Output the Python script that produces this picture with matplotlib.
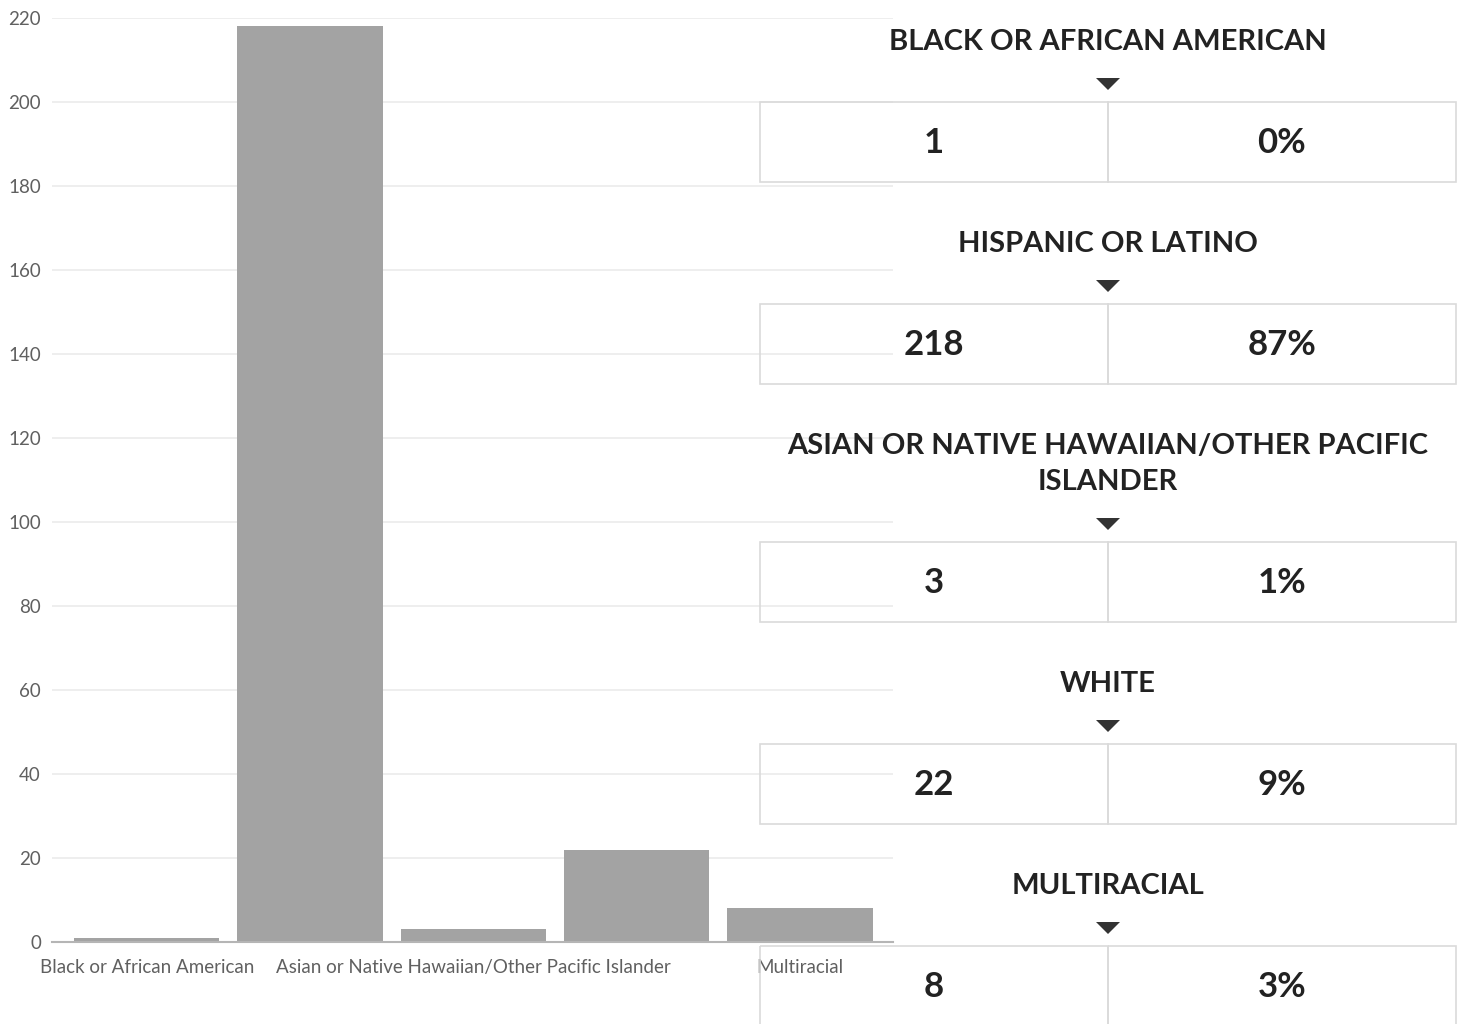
import matplotlib.pyplot as plt
from matplotlib.patches import Rectangle, Polygon

# Data
categories = ['Black or African American', 'Hispanic or Latino',
              'Asian or Native Hawaiian/Other Pacific Islander', 'White', 'Multiracial']
counts = [1, 218, 3, 22, 8]
percents = ['0%', '87%', '1%', '9%', '3%']
headers = ['BLACK OR AFRICAN AMERICAN', 'HISPANIC OR LATINO',
           'ASIAN OR NATIVE HAWAIIAN/OTHER PACIFIC\nISLANDER', 'WHITE', 'MULTIRACIAL']
# only every other category label is shown under the bars
shown_labels = ['Black or African American', '',
                'Asian or Native Hawaiian/Other Pacific Islander', '', 'Multiracial']
yticks = list(range(0, 221, 20))

plt.rcParams['font.family'] = ['Lato', 'DejaVu Sans']

W, H = 1465, 1024
fig = plt.figure(figsize=(W / 100, H / 100), dpi=100)

# Bar chart
ax = fig.add_axes([52 / W, (H - 942) / H, (893 - 52) / W, (942 - 18) / H])
x = list(range(len(counts)))
ax.bar(x, counts, width=0.89, color='#a3a3a3', zorder=3)
ax.set_xlim(-0.58, 4.57)
ax.set_ylim(0, 220)
ax.set_yticks(yticks)
ax.set_xticks(x)
ax.set_xticklabels(shown_labels)
ax.grid(axis='y', color='#ebebeb', linewidth=1.2, zorder=0)
ax.tick_params(axis='both', length=0, labelsize=13.5, labelcolor='#606060')
ax.tick_params(axis='y', pad=8)
ax.tick_params(axis='x', pad=12)
for s in ['top', 'right', 'left']:
    ax.spines[s].set_visible(False)
ax.spines['bottom'].set_color('#b5b5b5')
ax.spines['bottom'].set_linewidth(1.5)
ax.spines['bottom'].set_zorder(4)

# Overlay panel on the right (boxes are outlines only)
ov = fig.add_axes([0, 0, 1, 1])
ov.set_xlim(0, W)
ov.set_ylim(H, 0)
ov.axis('off')
ov.patch.set_alpha(0)

left, mid, right = 760, 1108, 1456
y = 42
for head, n, pct in zip(headers, counts, percents):
    nlines = head.count('\n') + 1
    ov.text(mid, y + (nlines - 1) * 18, head, ha='center', va='center', fontsize=21,
            fontweight='bold', color='#222222', linespacing=1.43)
    y += (nlines - 1) * 36
    ty = y + 42
    ov.add_patch(Polygon([(mid - 12, ty - 6), (mid + 12, ty - 6), (mid, ty + 6)],
                         closed=True, facecolor='#333333', edgecolor='none'))
    by = y + 60
    for x0 in (left, mid):
        ov.add_patch(Rectangle((x0, by), mid - left, 80, facecolor='none',
                               edgecolor='#dadada', linewidth=1.2))
    ov.text((left + mid) / 2, by + 41, str(n), ha='center', va='center',
            fontsize=25, fontweight='bold', color='#222222')
    ov.text((mid + right) / 2, by + 41, pct, ha='center', va='center',
            fontsize=25, fontweight='bold', color='#222222')
    y += 202

plt.savefig('out.png', dpi=100)
